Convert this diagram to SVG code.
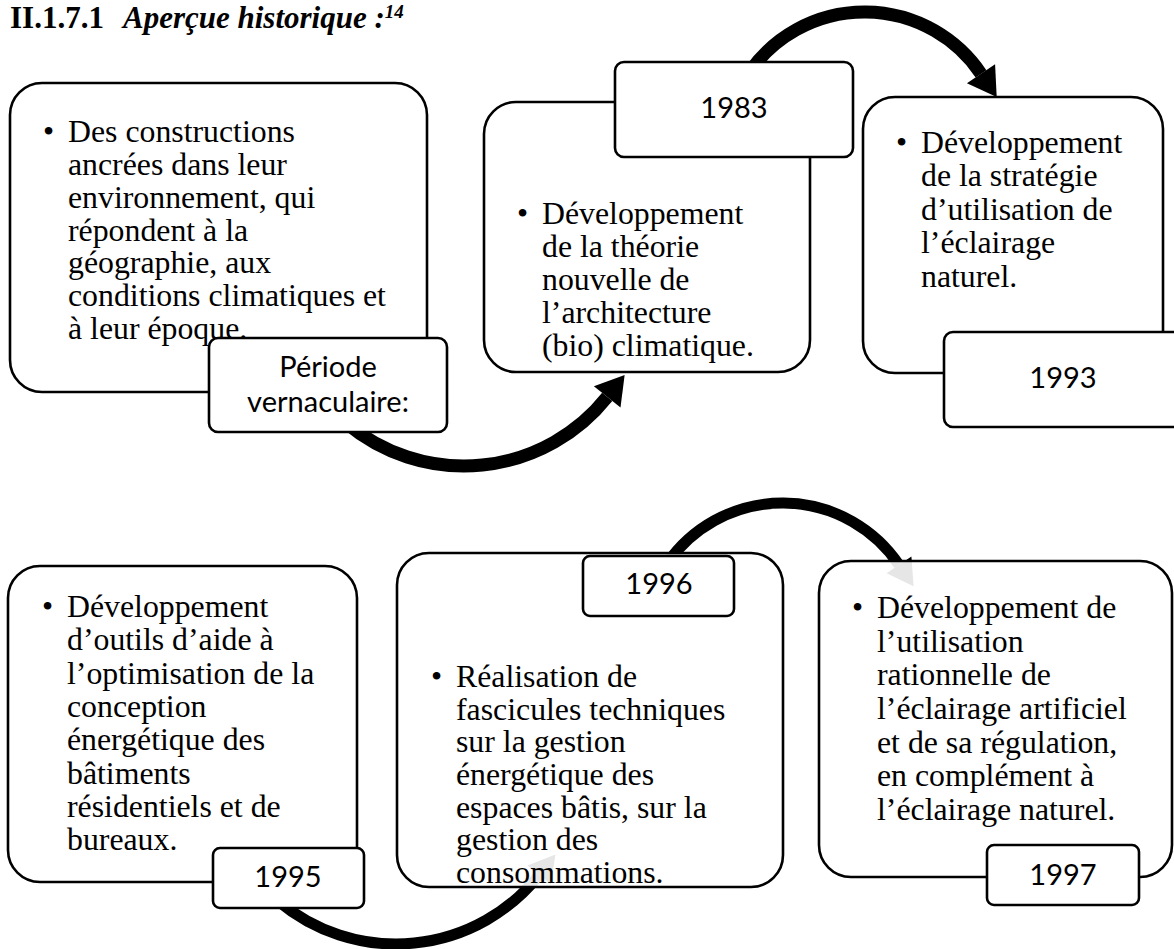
<svg xmlns="http://www.w3.org/2000/svg" width="1174" height="949" viewBox="0 0 1174 949">
  <style>
    .panel { fill: #ffffff; fill-opacity: 0.9; stroke: #000; stroke-width: 2.6; }
    .tag { fill: #ffffff; stroke: #000; stroke-width: 2.6; }
    .body { font-family: "Liberation Serif", "Times New Roman", serif; font-size: 31.8px; fill: #000; }
    .lbl { font-family: Lato, "Open Sans", sans-serif; font-size: 29px; fill: #000; text-anchor: middle; }
    .title { font-family: "Liberation Serif", "Times New Roman", serif; font-size: 31px; font-weight: bold; fill: #000; }
    .sup { font-size: 19px; }
    .arc { fill: none; stroke: #000; stroke-linecap: butt; }
    .thick { stroke-width: 13; }
    .thin { stroke-width: 11; }
  </style>
  <defs>
    <marker id="headBig" markerUnits="userSpaceOnUse" viewBox="0 -18 30 36" refX="0" refY="0" markerWidth="30" markerHeight="36" orient="auto" overflow="visible">
      <path d="M0,-17 L28,0 L0,17 Z" fill="#000"/>
    </marker>
    <marker id="headSmall" markerUnits="userSpaceOnUse" viewBox="0 -16 28 32" refX="0" refY="0" markerWidth="28" markerHeight="32" orient="auto" overflow="visible">
      <path d="M0,-15 L26,0 L0,15 Z" fill="#000"/>
    </marker>
  </defs>

  <rect width="1174" height="949" fill="#ffffff"/>

  <!-- heading -->
  <g id="heading">
    <text class="title" x="10" y="28">II.1.7.1</text>
    <text class="title" x="123" y="28" font-style="italic">Aperçue historique :<tspan class="sup" dy="-10">14</tspan></text>
  </g>

  <!-- curved connectors, drawn beneath the panels -->
  <g id="connectors">
    <path class="arc thick" d="M346.4,423.2 A183,183 0 0 0 607.2,396.9" marker-end="url(#headBig)"/>
    <path class="arc thick" d="M749.4,72 A140.6,140.6 0 0 1 981,73.8" marker-end="url(#headBig)"/>
    <path class="arc thin" d="M278.4,901.2 A183,183 0 0 0 539.2,874.9" marker-end="url(#headSmall)"/>
    <path class="arc thin" d="M667.4,563 A140.6,140.6 0 0 1 899,564.8" marker-end="url(#headSmall)"/>
  </g>

  <!-- upper row -->
  <g id="node-vernaculaire">
    <rect class="panel" x="10" y="83" width="417" height="309" rx="32"/>
    <text class="body"><tspan x="43" y="142">•</tspan></text>
    <text class="body">
      <tspan x="68" y="142">Des constructions</tspan>
      <tspan x="68" y="175">ancrées dans leur</tspan>
      <tspan x="68" y="208">environnement, qui</tspan>
      <tspan x="68" y="241">répondent à la</tspan>
      <tspan x="68" y="273">géographie, aux</tspan>
      <tspan x="68" y="306">conditions climatiques et</tspan>
      <tspan x="68" y="339">à leur époque.</tspan>
    </text>
  </g>

  <g id="node-1983">
    <rect class="panel" x="484" y="102" width="326" height="270" rx="32"/>
    <text class="body"><tspan x="517" y="224">•</tspan></text>
    <text class="body">
      <tspan x="542" y="224">Développement</tspan>
      <tspan x="542" y="257">de la théorie</tspan>
      <tspan x="542" y="290">nouvelle de</tspan>
      <tspan x="542" y="323">l’architecture</tspan>
      <tspan x="542" y="356">(bio) climatique.</tspan>
    </text>
  </g>

  <g id="node-1993">
    <rect class="panel" x="863" y="97" width="300" height="276" rx="32"/>
    <text class="body"><tspan x="896" y="153">•</tspan></text>
    <text class="body">
      <tspan x="921" y="153">Développement</tspan>
      <tspan x="921" y="186">de la stratégie</tspan>
      <tspan x="921" y="220">d’utilisation de</tspan>
      <tspan x="921" y="253">l’éclairage</tspan>
      <tspan x="921" y="287">naturel.</tspan>
    </text>
  </g>

  <!-- lower row -->
  <g id="node-1995">
    <rect class="panel" x="8" y="566" width="349" height="316" rx="32"/>
    <text class="body"><tspan x="42" y="617">•</tspan></text>
    <text class="body">
      <tspan x="67" y="617">Développement</tspan>
      <tspan x="67" y="650">d’outils d’aide à</tspan>
      <tspan x="67" y="684">l’optimisation de la</tspan>
      <tspan x="67" y="717">conception</tspan>
      <tspan x="67" y="750">énergétique des</tspan>
      <tspan x="67" y="784">bâtiments</tspan>
      <tspan x="67" y="817">résidentiels et de</tspan>
      <tspan x="67" y="850">bureaux.</tspan>
    </text>
  </g>

  <g id="node-1996">
    <rect class="panel" x="397" y="553" width="386" height="334" rx="32"/>
    <text class="body"><tspan x="431" y="687">•</tspan></text>
    <text class="body">
      <tspan x="456" y="687">Réalisation de</tspan>
      <tspan x="456" y="720">fascicules techniques</tspan>
      <tspan x="456" y="752">sur la gestion</tspan>
      <tspan x="456" y="785">énergétique des</tspan>
      <tspan x="456" y="818">espaces bâtis, sur la</tspan>
      <tspan x="456" y="850">gestion des</tspan>
      <tspan x="456" y="883">consommations.</tspan>
    </text>
  </g>

  <g id="node-1997">
    <rect class="panel" x="819" y="561" width="353" height="316" rx="32"/>
    <text class="body"><tspan x="852" y="618">•</tspan></text>
    <text class="body">
      <tspan x="877" y="618">Développement de</tspan>
      <tspan x="877" y="652">l’utilisation</tspan>
      <tspan x="877" y="685">rationnelle de</tspan>
      <tspan x="877" y="719">l’éclairage artificiel</tspan>
      <tspan x="877" y="753">et de sa régulation,</tspan>
      <tspan x="877" y="786">en complément à</tspan>
      <tspan x="877" y="820">l’éclairage naturel.</tspan>
    </text>
  </g>

  <!-- date tags, laid over the panels -->
  <g id="tag-vernaculaire">
    <rect class="tag" x="209" y="338" width="238" height="94" rx="9"/>
    <text class="lbl" x="328" y="377">Période</text>
    <text class="lbl" x="328" y="412">vernaculaire:</text>
  </g>
  <g id="tag-1983">
    <rect class="tag" x="615" y="62" width="238" height="95" rx="9"/>
    <text class="lbl" x="734" y="118">1983</text>
  </g>
  <g id="tag-1993">
    <rect class="tag" x="944" y="332" width="238" height="95" rx="9"/>
    <text class="lbl" x="1063" y="388">1993</text>
  </g>
  <g id="tag-1995">
    <rect class="tag" x="213" y="848" width="151" height="60" rx="7"/>
    <text class="lbl" x="288" y="887">1995</text>
  </g>
  <g id="tag-1996">
    <rect class="tag" x="583" y="556" width="151" height="60" rx="7"/>
    <text class="lbl" x="659" y="594">1996</text>
  </g>
  <g id="tag-1997">
    <rect class="tag" x="987" y="845" width="152" height="60" rx="7"/>
    <text class="lbl" x="1063" y="885">1997</text>
  </g>
</svg>
